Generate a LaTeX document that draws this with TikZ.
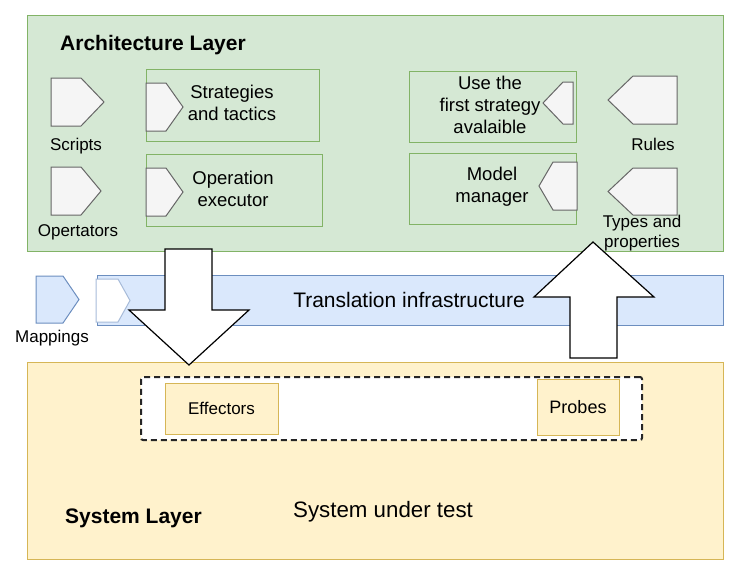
\documentclass[tikz,border=0pt]{standalone}
\usepackage{fontspec}
\setmainfont{Liberation Sans}
\definecolor{gfill}{HTML}{D5E8D4}
\definecolor{gline}{HTML}{82B366}
\definecolor{bfill}{HTML}{DAE8FC}
\definecolor{bline}{HTML}{6C8EBF}
\definecolor{yfill}{HTML}{FFF2CC}
\definecolor{yline}{HTML}{D6B656}
\definecolor{pfill}{HTML}{F5F5F5}
\definecolor{pline}{HTML}{666666}
\newcommand\rpent[6][pent]{\draw[#1] (#2,#5) -- (#3,#5) -- (#4,{(#5+#6)/2}) -- (#3,#6) -- (#2,#6) -- cycle;}
\newcommand\lpent[6][pent]{\draw[#1] (#2,#5) -- (#3,#5) -- (#4,{(#5+#6)/2}) -- (#3,#6) -- (#2,#6) -- cycle;}
\tikzset{
  box/.style={anchor=north west, inner sep=0pt, outer sep=0pt},
  greenbox/.style={box, fill=gfill, draw=gline, line width=1pt},
  yellowbox/.style={box, fill=yfill, draw=yline, line width=1pt},
  bluebox/.style={box, fill=bfill, draw=bline, line width=1pt},
  pent/.style={fill=pfill, draw=pline, line width=1pt, line join=miter},
  bpent/.style={fill=bfill, draw=bline, line width=1pt, line join=miter},
  wpent/.style={fill=white, draw=bline!60, line width=1pt, line join=miter},
  blockarrow/.style={fill=white, draw=black, line width=1.2pt, line join=miter},
  lbl/.style={font=\fontsize{17}{20}\selectfont, inner sep=0pt, align=center},
  boxtxt/.style={font=\fontsize{18.5}{22}\selectfont, inner sep=0pt, align=center},
  title/.style={font=\fontsize{21}{25}\selectfont\bfseries, inner sep=0pt, anchor=west},
  big/.style={font=\fontsize{21}{25}\selectfont, inner sep=0pt}
}
\begin{document}
\begin{tikzpicture}[x=1pt,y=-1pt]
\useasboundingbox (0,0) rectangle (747,582);
% Architecture layer
\node[greenbox, minimum width=696pt, minimum height=236pt] (arch) at (27,15) {};
\node[greenbox, minimum width=173pt, minimum height=72pt] (strat) at (146,69) {};
\node[greenbox, minimum width=176pt, minimum height=72pt] (opex) at (146,154) {};
\node[greenbox, minimum width=167pt, minimum height=71pt] (first) at (409,71) {};
\node[greenbox, minimum width=167pt, minimum height=71pt] (model) at (409,153) {};
\rpent{51}{81}{104}{78}{126}
\rpent{51}{81}{101}{167}{215}
\rpent{146}{166}{183}{83}{131}
\rpent{146}{166}{183}{168}{216}
\lpent{573}{563}{543}{82}{124}
\lpent{577}{553}{539}{162}{210}
\lpent{677}{633}{608}{76}{124}
\lpent{677}{633}{608}{168}{215}
\node[title] (archt) at (60,45) {Architecture Layer};
\node[lbl] (scripts) at (76,146) {Scripts};
\node[lbl] (operators) at (78,232) {Opertators};
\node[boxtxt] (stratt) at (232,103) {Strategies\\and tactics};
\node[boxtxt] (opext) at (233,189) {Operation\\executor};
\node[boxtxt] (firstt) at (490,105) {Use the\\first strategy\\avalaible};
\node[boxtxt] (modelt) at (492,187) {Model\\manager};
\node[lbl] (rules) at (653,144) {Rules};
% Translation
\node[bluebox, minimum width=626pt, minimum height=50pt] (trans) at (97,275) {};
\node[big] (transt) at (409,300) {Translation infrastructure};
\rpent[bpent]{36}{63}{79}{276}{323}
\rpent[wpent]{96}{118}{130}{279}{322}
\node[lbl] (mappings) at (52,338) {Mappings};
% System layer
\node[yellowbox, minimum width=696pt, minimum height=197pt] (sys) at (27,362) {};
\node[box, fill=white, draw=black!85, line width=2pt, dash pattern=on 6pt off 4pt, rounded corners=2pt, minimum width=501pt, minimum height=63pt] (probe) at (141,377) {};
\node[yellowbox, minimum width=113pt, minimum height=51pt, font=\fontsize{17}{20}\selectfont] (eff) at (165,383) {Effectors};
\node[yellowbox, minimum width=82pt, minimum height=56pt, font=\fontsize{18}{20}\selectfont] (probes) at (537,379) {Probes};
\node[title] (syst) at (65,518) {System Layer};
\node[big, anchor=west, font=\fontsize{22.3}{26}\selectfont] (sut) at (293,512) {System under test};
% block arrows
\draw[blockarrow] (165,249) -- (212,249) -- (212,310) -- (249,310) -- (189,365) -- (129,310) -- (165,310) -- cycle;
\draw[blockarrow] (570,358) -- (617,358) -- (617,297) -- (654,297) -- (593,242) -- (534,297) -- (570,297) -- cycle;
\node[lbl] (types) at (642,233) {Types and\\properties};
\end{tikzpicture}
\end{document}
